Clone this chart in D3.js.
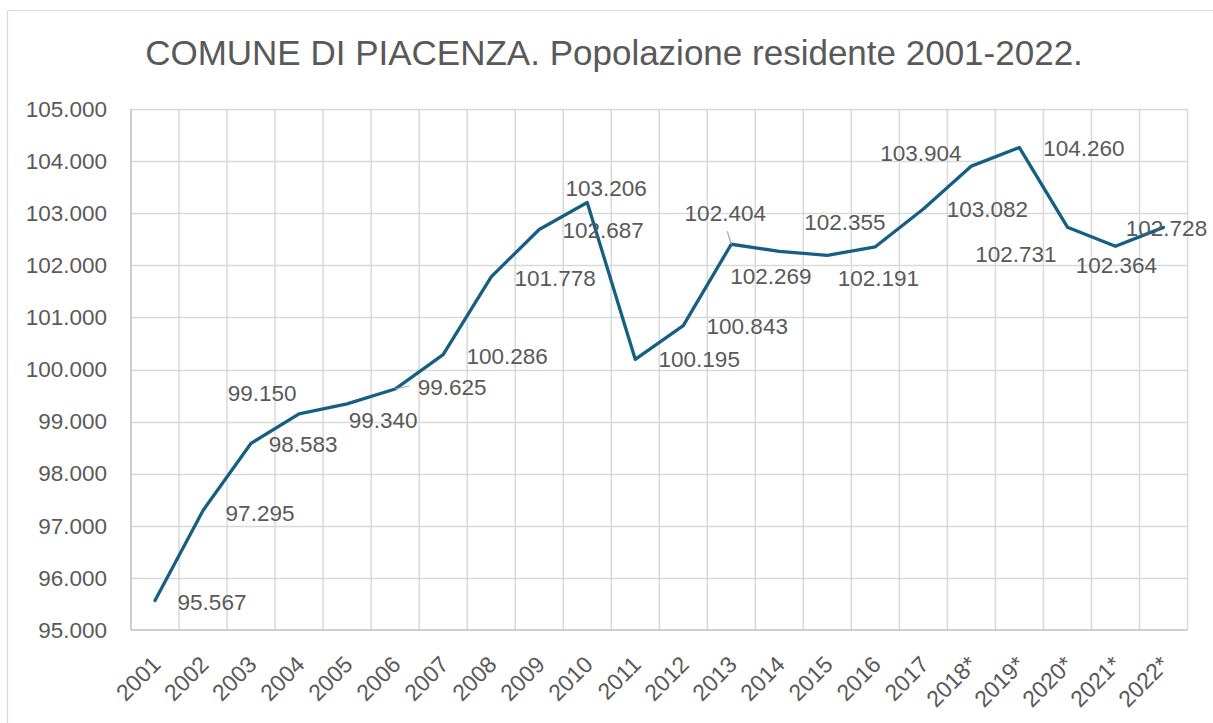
<!DOCTYPE html>
<html>
<head>
<meta charset="utf-8">
<script src="https://cdn.jsdelivr.net/npm/d3@7"></script>
<style>
  html, body { margin: 0; padding: 0; background: #ffffff; }
  svg { display: block; }
  text { font-family: "Liberation Sans", Arial, sans-serif; fill: #595959; }
</style>
</head>
<body>
<svg id="chart" width="1213" height="723"></svg>
<script>
// Resident population of Piacenza, 2001-2022 (starred years: provisional census series)
const years = ["2001","2002","2003","2004","2005","2006","2007","2008","2009","2010","2011",
               "2012","2013","2014","2015","2016","2017","2018*","2019*","2020*","2021*","2022*"];
const population = [95567, 97295, 98583, 99150, 99340, 99625, 100286, 101778, 102687, 103206, 100195,
                    100843, 102404, 102269, 102191, 102355, 103082, 103904, 104260, 102731, 102364, 102728];
const yTicks = [95000, 96000, 97000, 98000, 99000, 100000, 101000, 102000, 103000, 104000, 105000];
const titleText = "COMUNE DI PIACENZA. Popolazione residente 2001-2022.";

// Data label placement (dx, dy from the point, in px)
const labelOffsets = [
  [57, 1], [57, 2], [52, 1], [-37, -21], [36, 16], [57, -2], [64, 1], [64, 1], [64, 0.5], [19, -15], [64, 0],
  [64, 0], [-6, -31], [-8.5, 25], [51, 23], [-30.5, -25], [64, 0], [-50.5, -13], [64.5, 0.7], [-51.5, 27], [1, 19], [3, 1]
];
// Labels that are tied to their point with a short leader line
const leaderIdx = { 5: [14, -3], 12: [-4, -13] };

const svg = d3.select("#chart");
const plot = { left: 131, right: 1187.5, top: 109, bottom: 630 };

// Outer chart border (left and top edges)
svg.append("line").attr("x1", 7.5).attr("x2", 7.5).attr("y1", 10.5).attr("y2", 723)
  .attr("stroke", "#d9d9d9").attr("stroke-width", 1.2);
svg.append("line").attr("x1", 7.5).attr("x2", 1213).attr("y1", 10.5).attr("y2", 10.5)
  .attr("stroke", "#d9d9d9").attr("stroke-width", 1.2);

const x = d3.scaleBand().domain(years).range([plot.left, plot.right]).padding(0);
const y = d3.scaleLinear().domain([95000, 105000]).range([plot.bottom, plot.top]);
const fmt = d3.formatLocale({ decimal: ",", thousands: ".", grouping: [3] }).format(",.0f");
const fmtTick = v => { const s = String(v); return s.slice(0, s.length - 3) + "." + s.slice(-3); };

// Horizontal gridlines
svg.append("g").selectAll("line").data(yTicks.filter(t => t !== 95000)).join("line")
  .attr("x1", plot.left).attr("x2", plot.right)
  .attr("y1", d => Math.round(y(d)) + 0.5).attr("y2", d => Math.round(y(d)) + 0.5)
  .attr("stroke", "#d9d9d9").attr("stroke-width", 1.5);

// Vertical gridlines at category boundaries
const bounds = years.map(d => x(d)).concat([plot.right]).slice(1);
svg.append("g").selectAll("line").data(bounds).join("line")
  .attr("x1", d => d).attr("x2", d => d)
  .attr("y1", plot.top).attr("y2", plot.bottom)
  .attr("stroke", "#d9d9d9").attr("stroke-width", 1.5);

// Axis lines
svg.append("line").attr("x1", plot.left).attr("x2", plot.left).attr("y1", plot.top).attr("y2", plot.bottom)
  .attr("stroke", "#bfbfbf").attr("stroke-width", 1.5);
svg.append("line").attr("x1", plot.left).attr("x2", plot.right).attr("y1", plot.bottom).attr("y2", plot.bottom)
  .attr("stroke", "#bfbfbf").attr("stroke-width", 1.5);

// Y axis labels
const yAxis = d3.axisLeft(y).tickValues(yTicks).tickFormat(fmtTick).tickSize(0).tickPadding(24);
const gy = svg.append("g").attr("transform", `translate(${plot.left},0)`).call(yAxis);
gy.select(".domain").remove();
gy.selectAll("text").attr("font-size", 22.5).attr("fill", "#595959")
  .attr("font-family", "Liberation Sans, Arial, sans-serif");

// X axis labels, rotated
const xAxis = d3.axisBottom(x).tickSize(0).tickPadding(0);
const gx = svg.append("g").attr("transform", `translate(0,${plot.bottom})`).call(xAxis);
gx.select(".domain").remove();
gx.selectAll("text")
  .attr("font-size", 23).attr("fill", "#595959")
  .attr("font-family", "Liberation Sans, Arial, sans-serif")
  .attr("text-anchor", "end")
  .attr("dy", null).attr("y", null)
  .attr("transform", "translate(7,36) rotate(-45)");

// Population line
const cx = (d, i) => x(years[i]) + x.bandwidth() / 2;
const line = d3.line().x((d, i) => cx(d, i)).y(d => y(d));
svg.append("path").datum(population)
  .attr("d", line).attr("fill", "none")
  .attr("stroke", "#156082").attr("stroke-width", 3.3)
  .attr("stroke-linejoin", "round").attr("stroke-linecap", "round");

// Leader lines
Object.keys(leaderIdx).forEach(k => {
  const i = +k, [lx, ly] = leaderIdx[k];
  svg.append("line")
    .attr("x1", cx(population[i], i)).attr("y1", y(population[i]))
    .attr("x2", cx(population[i], i) + lx).attr("y2", y(population[i]) + ly)
    .attr("stroke", "#a6a6a6").attr("stroke-width", 1.2);
});

// Data labels
svg.append("g").selectAll("text").data(population).join("text")
  .attr("x", (d, i) => cx(d, i) + labelOffsets[i][0])
  .attr("y", (d, i) => y(d) + labelOffsets[i][1])
  .attr("dy", "0.36em")
  .attr("text-anchor", "middle")
  .attr("font-size", 22.5)
  .text(d => fmt(d));

// Title
svg.append("text")
  .attr("x", 614).attr("y", 65)
  .attr("text-anchor", "middle")
  .attr("font-size", 35)
  .text(titleText);
</script>
</body>
</html>
